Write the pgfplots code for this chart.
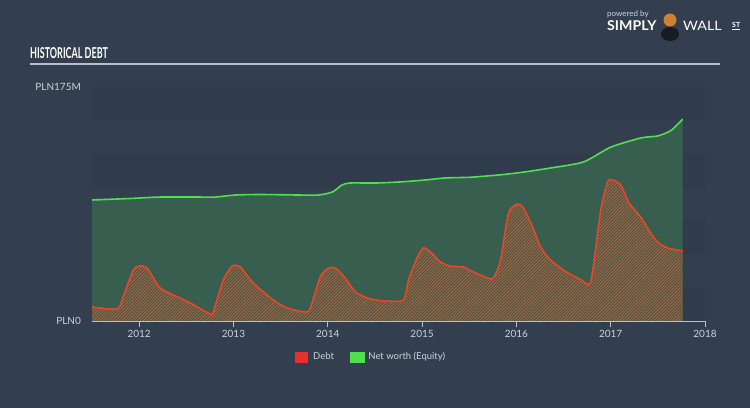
\documentclass[border=0pt]{standalone}
\usepackage{pgfplots}
\pgfplotsset{compat=1.18}
\usepackage{pgfplotstable}
\usepackage{fontspec}
\setmainfont{Lato}
\usetikzlibrary{patterns.meta}

\definecolor{bgcol}{HTML}{333F4F}
\definecolor{banddark}{HTML}{303B4B}
\definecolor{eqfill}{HTML}{375E4F}
\definecolor{eqline}{HTML}{4EE04E}
\definecolor{debtline}{HTML}{E8462A}
\definecolor{debtbase}{HTML}{4B5848}
\definecolor{hatch}{HTML}{B8653C}
\definecolor{labcol}{HTML}{CDD2D8}
\definecolor{axiscol}{HTML}{B8C0C8}
\definecolor{legred}{HTML}{E8302A}
\definecolor{leggreen}{HTML}{4EE04E}

% net worth (equity), PLN M
\pgfplotstableread{
x y
2011.501 90.5
2011.900 91.6
2012.223 92.7
2012.650 92.7
2012.810 92.7
2013.020 94.2
2013.280 94.6
2013.710 94.2
2013.900 94.2
2014.050 96.5
2014.150 101.7
2014.240 103.2
2014.510 103.2
2014.770 104.0
2015.040 105.5
2015.250 107.0
2015.510 107.5
2015.780 109.0
2016.040 111.0
2016.360 114.4
2016.710 118.9
2017.000 130.0
2017.320 136.9
2017.500 138.4
2017.640 142.5
2017.764 151.0
}\equity

% debt, PLN M
\pgfplotstableread{
x y
2011.501 10.5
2011.766 9.0
2011.830 18.0
2011.936 38.0
2012.000 41.1
2012.085 39.6
2012.223 24.7
2012.435 17.2
2012.541 13.5
2012.754 5.2
2012.786 6.7
2012.892 30.7
2012.987 41.1
2013.072 40.4
2013.210 28.4
2013.423 15.7
2013.571 9.7
2013.762 6.7
2013.815 9.7
2013.921 33.0
2014.006 39.6
2014.081 39.6
2014.187 32.0
2014.293 21.7
2014.452 16.5
2014.611 15.0
2014.803 15.7
2014.856 30.7
2014.951 47.9
2015.015 54.6
2015.089 51.6
2015.195 44.1
2015.301 41.1
2015.439 40.4
2015.546 36.6
2015.694 32.2
2015.758 32.2
2015.832 45.6
2015.917 80.8
2016.013 87.5
2016.076 84.5
2016.172 70.3
2016.257 55.3
2016.363 45.6
2016.522 37.0
2016.682 31.0
2016.788 29.5
2016.895 83.0
2016.968 104.0
2017.021 105.5
2017.106 101.7
2017.197 88.0
2017.318 77.8
2017.424 65.8
2017.499 59.0
2017.605 54.6
2017.764 52.4
}\debt

\begin{document}
\begin{tikzpicture}
\fill[bgcol] (0,0) rectangle (750bp,408bp);
\useasboundingbox (0,0) rectangle (750bp,408bp);

% title and rule
\node[anchor=base west, inner sep=0pt, text=white] at (30bp,349bp)
  {\scalebox{0.6}[1]{\fontsize{15bp}{15bp}\selectfont\bfseries HISTORICAL DEBT}};
\draw[axiscol, line width=1.5bp] (30bp,344bp) -- (720bp,344bp);

% logo
\node[anchor=base west, inner sep=0pt, text=labcol] at (607bp,391bp)
  {\fontsize{8bp}{8bp}\selectfont powered by};
\node[anchor=base west, inner sep=0pt, text=white] at (607bp,377bp)
  {\scalebox{1.05}[1]{\fontsize{13.5bp}{13.5bp}\selectfont\bfseries SIMPLY}};
\fill[black!55!bgcol] (670bp,374bp) ellipse (9bp and 7bp);
\fill[brown!75!orange] (670bp,388bp) circle (6.5bp);
\node[anchor=base west, inner sep=0pt, text=white] at (683bp,377bp)
  {\scalebox{1.1}[1]{\fontsize{13bp}{13bp}\selectfont WALL}};
\node[anchor=base west, inner sep=0pt, text=white] at (732bp,380bp)
  {\fontsize{7bp}{7bp}\selectfont\bfseries\underline{ST}};

\begin{axis}[
  at={(92bp,87bp)}, anchor=south west,
  width=613bp, height=234bp, scale only axis,
  xmin=2011.5, xmax=2018, ymin=0, ymax=175,
  axis x line*=bottom, axis y line*=left,
  x axis line style={draw=axiscol, line width=1bp, -},
  y axis line style={draw=none},
  xtick={2012,2013,2014,2015,2016,2017,2018},
  ytick={0,175}, yticklabels={PLN0,PLN175M},
  tick align=outside, major tick length=6bp,
  x tick style={draw=axiscol, line width=0.8bp},
  y tick style={draw=none},
  /pgf/number format/assume math mode=true,
  xticklabel style={/pgf/number format/1000 sep={}, text=labcol,
    font=\fontsize{10bp}{10bp}\selectfont},
  yticklabel style={text=labcol, font=\fontsize{10bp}{10bp}\selectfont,
    anchor=east, inner sep=0pt, xshift=-5bp},
  legend columns=2,
  legend style={at={(0.455,-0.154)}, anchor=center, draw=none,
    fill=none, text=labcol, font=\fontsize{9.5bp}{9.5bp}\selectfont,
    /tikz/every even column/.append style={column sep=14bp}},
]
% background bands
\fill[banddark] (axis cs:2011.5,150) rectangle (axis cs:2018,175);
\fill[banddark] (axis cs:2011.5,100) rectangle (axis cs:2018,125);
\fill[banddark] (axis cs:2011.5,50) rectangle (axis cs:2018,75);
\fill[banddark] (axis cs:2011.5,0) rectangle (axis cs:2018,25);

\addplot[forget plot, draw=none, fill=eqfill, smooth, tension=0.4]
  table {\equity} \closedcycle;
\addplot[forget plot, draw=none, fill=debtbase, smooth, tension=0.4]
  table {\debt} \closedcycle;
\addplot[forget plot, draw=none, smooth, tension=0.4,
  pattern={Lines[angle=45,distance=2.2bp,line width=0.75bp]}, pattern color=hatch]
  table {\debt} \closedcycle;
\addplot[forget plot, eqline, line width=1.6bp, smooth, tension=0.4]
  table {\equity};
\addplot[forget plot, debtline, line width=1.6bp, smooth, tension=0.4]
  table {\debt};

\addlegendimage{legend image code/.code={\fill[legred] (0bp,-5bp) rectangle (12bp,5bp); \path (16bp,0bp);}}
\addlegendimage{legend image code/.code={\fill[leggreen] (0bp,-5bp) rectangle (14bp,5bp); \path (16bp,0bp);}}
\legend{Debt,Net worth (Equity)}
\end{axis}
\end{tikzpicture}
\end{document}
